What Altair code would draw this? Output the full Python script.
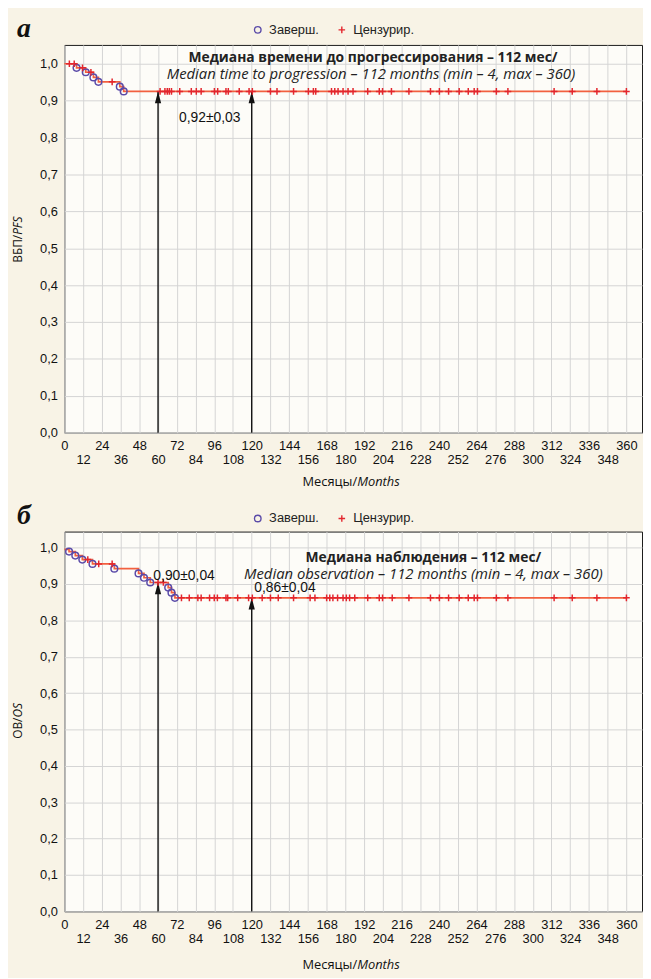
import altair as alt
import pandas as pd

KINDS = ['Заверш.', 'Цензурир.']
SHAPES = ['circle', 'M-1,0L1,0M0,-1L0,1']
COLORS = ['#5a4aa8', '#e3262d']
LINE_COLOR = '#f2603f'

X_TICKS = [0, 12, 24, 36, 48, 60, 72, 84, 96, 108, 120, 132, 144, 156, 168, 180,
           192, 204, 216, 228, 240, 252, 264, 276, 288, 300, 312, 324, 336, 348, 360]
Y_TICKS = [0.0, 0.1, 0.2, 0.3, 0.4, 0.5, 0.6, 0.7, 0.8, 0.9, 1.0]

# ---- Panel а : ВБП / PFS ----
a_step_t = [0, 7.8, 13.7, 18.6, 21.8, 35.5, 38, 360]
a_step_s = [1.0, 0.989, 0.977, 0.963, 0.951, 0.938, 0.925, 0.925]
a_event_t = [7.8, 13.7, 18.6, 21.8, 35.5, 38]
a_event_s = [0.989, 0.977, 0.963, 0.951, 0.938, 0.925]
a_cens_t = [3.2, 6.3, 11.6, 17, 30.6, 61.3, 64.4, 65.9, 67.2, 68.6, 73.9, 81.3, 84.5,
            87.6, 96.1, 98.2, 103.5, 105, 112, 118.3, 120.4, 132, 136.2, 146.8, 156.3,
            159.5, 161, 171.1, 173.2, 175.3, 178.5, 181.7, 184.9, 194.3, 201.7, 203.8,
            209.5, 220.7, 234.5, 240.2, 246.1, 252.9, 258.7, 262.5, 264.6, 276.7, 284.1,
            313.7, 325.3, 341.1, 360]
a_arrow_t = [60, 120]
a_arrow_s = [0.925, 0.925]

# ---- Panel б : ОВ / OS ----
b_step_t = [0, 3, 7, 11.5, 18, 32, 47.5, 51, 55, 66.5, 68.6, 70.8, 360]
b_step_s = [0.995, 0.989, 0.978, 0.967, 0.955, 0.942, 0.929, 0.917, 0.904, 0.890, 0.876, 0.862, 0.862]
b_event_t = [3, 7, 11.5, 18, 32, 47.5, 51, 55, 66.5, 68.6, 70.8]
b_event_s = [0.989, 0.978, 0.967, 0.955, 0.942, 0.929, 0.917, 0.904, 0.890, 0.876, 0.862]
b_cens_t = [15, 22, 30.6, 60, 63.4, 75, 80, 85.5, 87.6, 93, 96, 98, 103.5, 104.6, 111, 118,
            120.4, 126.7, 132, 137, 146.8, 157.4, 160.5, 168, 170, 172, 175, 178.5, 180.6,
            182.7, 186, 194.3, 201.7, 203.8, 210, 220.7, 234.5, 240.2, 246.1, 252.9, 258.7,
            262.5, 264.6, 276.7, 284.1, 313.7, 325.3, 341.1, 360]
b_arrow_t = [60, 120]
b_arrow_s = [0.904, 0.862]

W = 584
SANS = 'Open Sans'
ARIAL = 'Liberation Sans'


def level_at(t, st, ss):
    s = ss[0]
    for tt, v in zip(st, ss):
        if tt <= t:
            s = v
    return s


def txt(text, x, y, **kw):
    return alt.Chart(pd.DataFrame({'txt': [text]})).mark_text(**kw).encode(
        x=alt.value(x), y=alt.value(y), text='txt:N')


def panel(step_t, step_s, ev_t, ev_s, cens_t, arr_t, arr_s, ymax, h,
          letter, ytitle, titles, values, legend_y, xtitle_dy):
    xsc = alt.Scale(domain=[0, 370], nice=False, zero=False)
    ysc = alt.Scale(domain=[0, ymax], nice=False)
    xaxis = alt.Axis(values=X_TICKS, tickCount=100, title=None, grid=True,
                     gridColor='#d4d4d4', ticks=False, domain=False, labelOverlap=False,
                     labelFlush=False, labelFont=ARIAL, labelFontSize=13, labelColor='#111',
                     labelPadding=7, labelLineHeight=14.5,
                     labelExpr="datum.value % 24 === 0 ? datum.label : ['', datum.label]")
    yaxis = alt.Axis(values=Y_TICKS, tickCount=100, title=None, grid=True,
                     gridColor='#d4d4d4', ticks=False, domain=False, labelFont=ARIAL,
                     labelFontSize=13, labelColor='#111', labelPadding=7, labelOverlap=False,
                     labelExpr="replace(format(datum.value, '.1f'), '.', ',')")

    step_df = pd.DataFrame({'t': step_t, 's': step_s})
    line = alt.Chart(step_df).mark_line(interpolate='step-after', color=LINE_COLOR,
                                        strokeWidth=1.7).encode(
        x=alt.X('t:Q', scale=xsc, axis=xaxis), y=alt.Y('s:Q', scale=ysc, axis=yaxis))

    cens_s = [level_at(t, step_t, step_s) for t in cens_t]
    pts_df = pd.DataFrame({
        't': list(ev_t) + list(cens_t),
        's': list(ev_s) + cens_s,
        'kind': [KINDS[0]] * len(ev_t) + [KINDS[1]] * len(cens_t),
    })
    legend = alt.Legend(title=None, orient='none', direction='horizontal',
                        legendX=189, legendY=legend_y, labelFont=ARIAL,
                        labelFontSize=13, labelColor='#222', symbolSize=44,
                        symbolStrokeWidth=1.4, columnPadding=16, labelOffset=5)
    pts = alt.Chart(pts_df).mark_point(filled=False, size=46, strokeWidth=1.5, opacity=1).encode(
        x='t:Q', y='s:Q',
        shape=alt.Shape('kind:N', scale=alt.Scale(domain=KINDS, range=SHAPES), legend=legend),
        color=alt.Color('kind:N', scale=alt.Scale(domain=KINDS, range=COLORS), legend=legend))

    arr_df = pd.DataFrame({'t': arr_t, 's': arr_s, 'z': [0, 0]})
    rules = alt.Chart(arr_df).mark_rule(color='#111', strokeWidth=1.4).encode(
        x='t:Q', y='z:Q', y2='s:Q')
    heads = alt.Chart(arr_df).mark_point(shape='M0,0L-0.9,3.4L0.9,3.4Z', filled=True,
                                         color='#111', size=49, opacity=1).encode(
        x='t:Q', y='s:Q')

    layers = [line, rules, heads, pts]
    (b1, bx, by), (i1, ix, iy) = titles
    layers.append(txt(b1, bx, by, font=SANS, fontSize=14, fontWeight='bold', color='#222'))
    layers.append(txt(i1, ix, iy, font=SANS, fontSize=15, fontStyle='italic', color='#222'))
    for v, vx, vy in values:
        layers.append(txt(v, vx, vy, font=ARIAL, fontSize=14, color='#111'))
    layers.append(txt(letter, -48, -8, font='Liberation Serif', fontSize=28,
                      fontWeight='bold', fontStyle='italic', align='left',
                      baseline='alphabetic', color='#111'))
    y1, y2 = ytitle
    layers.append(txt(y1, -47, h / 2 - 4, font=SANS, fontSize=12, angle=270,
                      align='right', baseline='middle', color='#111'))
    layers.append(txt(y2, -47, h / 2 - 4, font=SANS, fontSize=12, angle=270,
                      align='left', baseline='middle', fontStyle='italic', color='#111'))
    layers.append(txt('Месяцы/', 296, h + xtitle_dy, font=SANS, fontSize=13, align='right',
                      baseline='middle', color='#111'))
    layers.append(txt('Months', 296, h + xtitle_dy, font=SANS, fontSize=13, align='left',
                      baseline='middle', fontStyle='italic', color='#111'))
    return alt.layer(*layers).properties(width=W, height=h)


pa = panel(a_step_t, a_step_s, a_event_t, a_event_s, a_cens_t, a_arrow_t, a_arrow_s,
           1.051, 392, 'а', ('ВБП/', 'PFS'),
           (('Медиана времени до прогрессирования – 112 мес/', 312, 13),
            ('Median time to progression – 112 months (min – 4, max – 360)', 310, 29)),
           [('0,92±0,03', 147, 74)], -22, 50)

pb = panel(b_step_t, b_step_s, b_event_t, b_event_s, b_cens_t, b_arrow_t, b_arrow_s,
           1.044, 384, 'б', ('ОВ/', 'OS'),
           (('Медиана наблюдения – 112 мес/', 363, 27),
            ('Median observation – 112 months (min – 4, max – 360)', 363, 43)),
           [('0,90±0,04', 121, 45), ('0,86±0,04', 223, 57)], -20, 54)

chart = alt.vconcat(pa, pb, spacing=11).resolve_scale(
    x='independent', y='independent', color='independent', shape='independent'
).resolve_legend(color='independent', shape='independent').configure(
    background='#f8f3e6', padding={'left': 3, 'top': 1, 'right': 0, 'bottom': 0}
).configure_view(stroke='#1a1a1a', strokeWidth=1, fill='#fdfcf8')

chart.save('out.html', embed_options={'renderer': 'svg', 'actions': False})
